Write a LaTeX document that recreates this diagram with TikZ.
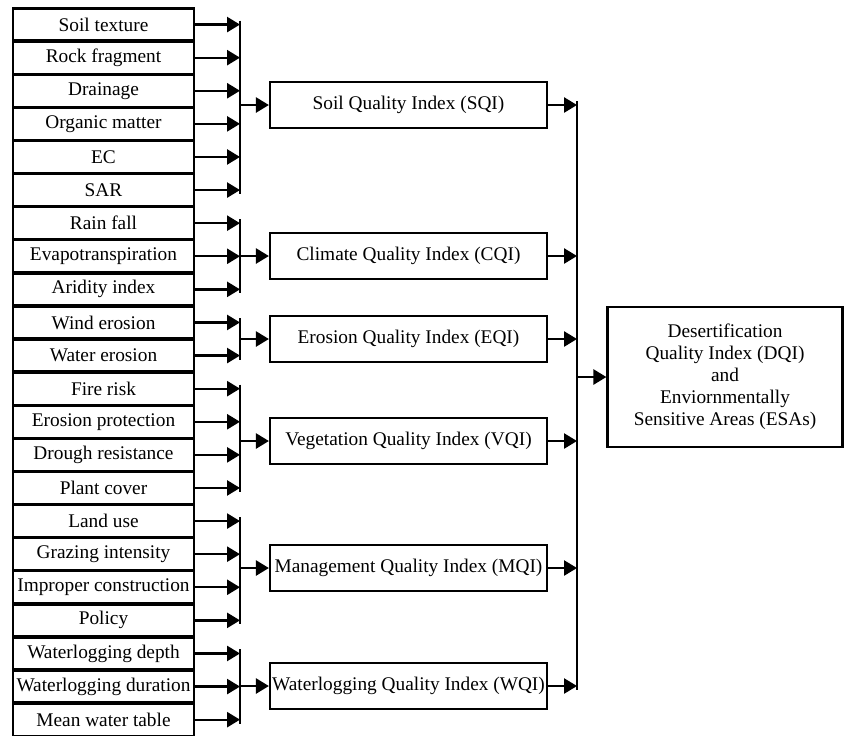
\documentclass[tikz,border=0pt]{standalone}
\usepackage{fontspec}
\setmainfont{Liberation Serif}
\usetikzlibrary{arrows.meta}
\tikzset{
  dq font/.style={font=\fontsize{11}{12.5}\selectfont},
  factor box/.style={
    draw,line width=1.3pt,minimum width=3.62cm,minimum height=0.64cm,
    inner sep=1pt,dq font
  },
  index box/.style={
    draw,line width=1.3pt,minimum width=5.54cm,minimum height=0.92cm,
    inner sep=1pt,dq font
  },
  final box/.style={
    draw,line width=1.3pt,minimum width=4.7cm,minimum height=2.8cm,
    align=center,dq font
  },
  feed/.style={-{Triangle[length=7.4pt,width=8.6pt]},line width=1.3pt},
  bus/.style={line width=1.3pt,shorten <=-0.08cm,shorten >=-0.08cm}
}

\begin{document}
\begin{tikzpicture}[x=0.02cm,y=-0.02cm]
  \useasboundingbox (0,0) rectangle (844,735);
  \foreach \lbl [count=\i] in {Soil texture,Rock fragment,Drainage,
      Organic matter,EC,SAR,Rain fall,Evapotranspiration,Aridity index,
      Wind erosion,Water erosion,Fire risk,Erosion protection,
      Drough resistance,Plant cover,Land use,Grazing intensity,
      Improper construction,Policy,Waterlogging depth,
      Waterlogging duration,Mean water table}
    \node[factor box] (f\i) at (103.5,{8+33.1*(\i-0.5)}) {\lbl};

  \node[index box] (sqi) at (408.5,105) {Soil Quality Index (SQI)};
  \node[index box] (cqi) at (408.5,256) {Climate Quality Index (CQI)};
  \node[index box] (eqi) at (408.5,339) {Erosion Quality Index (EQI)};
  \node[index box] (vqi) at (408.5,441) {Vegetation Quality Index (VQI)};
  \node[index box] (mqi) at (408.5,568) {Management Quality Index (MQI)};
  \node[index box] (wqi) at (408.5,686) {Waterlogging Quality Index (WQI)};
  \node[final box] (dqi) at (725,377) {Desertification\\Quality Index (DQI)\\
    and\\Enviornmentally\\Sensitive Areas (ESAs)};

  \coordinate (lbus) at (240,0);
  \coordinate (rbus) at (577,0);

  \foreach \i in {1,...,22}
    \draw[feed] (f\i.east) -- (f\i.east -| lbus);
  \foreach \a/\b/\m in {1/6/sqi,7/9/cqi,10/11/eqi,12/15/vqi,16/19/mqi,20/22/wqi}{
    \draw[bus] (f\a.east -| lbus) -- (f\b.east -| lbus);
    \draw[feed] (\m.west -| lbus) -- (\m.west);
  }

  \foreach \m in {sqi,cqi,eqi,vqi,mqi,wqi}
    \draw[feed] (\m.east) -- (\m.east -| rbus);
  \draw[bus] (sqi.east -| rbus) -- (wqi.east -| rbus);
  \draw[feed] (dqi.west -| rbus) -- (dqi.west);
\end{tikzpicture}
\end{document}
